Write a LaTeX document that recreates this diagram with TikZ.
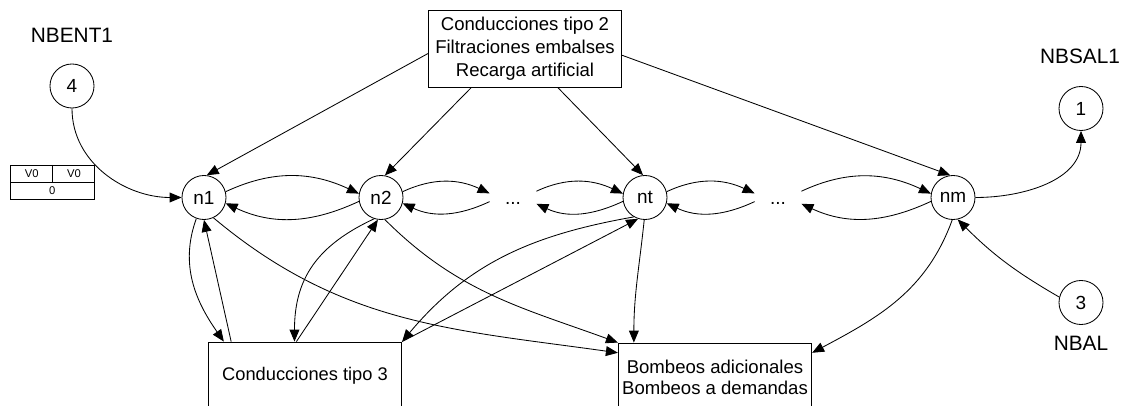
\documentclass[tikz,border=0pt]{standalone}
\usepackage{fontspec}
\setmainfont{Liberation Sans}
\usetikzlibrary{arrows.meta}

\begin{document}
\begin{tikzpicture}[x=0.025cm, y=-0.025cm, line width=0.6pt,
	nodo/.style={circle, draw, minimum size=1.1cm, inner sep=0pt, font=\fontsize{13.5}{16}\selectfont},
	puntos/.style={minimum width=1.15cm, minimum height=0.5cm, inner sep=0pt, text height=9.7pt, text depth=0pt, font=\fontsize{13.5}{16}\selectfont},
	caja/.style={draw, rectangle, minimum width=4.835cm, inner sep=0pt, align=center},
	rotulo/.style={inner sep=0pt, font=\fontsize{14.8}{17}\selectfont},
	celda/.style={inner sep=0pt, font=\fontsize{8}{9}\selectfont},
	flecha/.style={-{Triangle[length=8.5pt,width=7pt]}}]
	\useasboundingbox (0,0) rectangle (1125,406);
	\clip (0,0) rectangle (1125,406);

	\node[rotulo] (nbent) at (72,35) {NBENT1};
	\node[nodo] (c4) at (72,86) {4};
	\node[rotulo] (nbsal) at (1080,56) {NBSAL1};
	\node[nodo] (c1) at (1081,108.5) {1};
	\node[nodo] (c3) at (1081,302.5) {3};
	\node[rotulo] (nbal) at (1081,343.5) {NBAL};

	\draw (10,165) rectangle (94.3,199.3);
	\draw (10,182.3) -- (94.3,182.3);
	\draw (52.3,165) -- (52.3,182.3);
	\node[celda] (v0a) at (31.7,173.7) {V0};
	\node[celda] (v0b) at (74,173.7) {V0};
	\node[celda] (cero) at (52.3,190.8) {0};

	\node[nodo] (n1) at (204,197.5) {n1};
	\node[nodo] (n2) at (381,197.5) {n2};
	\node[puntos] (d1) at (513,197.5) {...};
	\node[nodo] (nt) at (645,197.5) {nt};
	\node[puntos] (d2) at (778,197.5) {...};
	\node[nodo] (nm) at (953,197.5) {nm};

	\node[caja, minimum height=1.925cm, font=\fontsize{13.2}{16.3}\selectfont] (conduc2) at (525,48.5) {Conducciones tipo 2\\Filtraciones embalses\\Recarga artificial};
	\node[caja, minimum height=1.7cm, font=\fontsize{13}{15}\selectfont] (conduc3) at (305,376) {Conducciones tipo 3};
	\node[caja, minimum height=1.7cm, font=\fontsize{13.2}{15}\selectfont] (bombeos) at (715,377) {Bombeos adicionales\\Bombeos a demandas};

	\draw[flecha] (c4.south) to[out=-90,in=180] (n1.west);
	\draw[flecha] (nm.east) to[out=0,in=-90] (c1.south);
	\draw[flecha] (c3.166) to[out=150,in=-45] (nm.282);

	\draw[flecha] (conduc2.183) -- (n1.83);
	\draw[flecha] (conduc2.216) -- (n2.80);
	\draw[flecha] (conduc2.310) -- (nt.95);
	\draw[flecha] (conduc2.356) -- (nm.97);

	% ida por arriba, vuelta por abajo
	\foreach \a/\b in {n1/n2, n2/d1, d1/nt, nt/d2, d2/nm} {
		\draw[flecha] (\a.15) to[out=25,in=155] (\b.170);
		\draw[flecha] (\b.190) to[out=205,in=-25] (\a.345);
	}

	\draw[flecha] (n1.250) to[out=250,in=125] (conduc3.157);
	\draw[flecha] (conduc3.155) -- (n1.270);
	\draw[flecha] (n2.252) to[out=205,in=90,looseness=1.1] (conduc3.107);
	\draw[flecha] (conduc3.104) -- (n2.262);
	\draw[flecha] (nt.240) to[out=190,in=50] (conduc3.north east);
	\draw[flecha] (conduc3.north east) -- (nt.252);

	\draw[flecha] (n1.295) to[out=-40,in=172] (bombeos.166);
	\draw[flecha] (n2.280) to[out=-45,in=160] (bombeos.north west);
	\draw[flecha] (nt.268) to[out=-96,in=90] (bombeos.157);
	\draw[flecha] (nm.268) to[out=-110,in=28] (bombeos.14);
\end{tikzpicture}
\end{document}
